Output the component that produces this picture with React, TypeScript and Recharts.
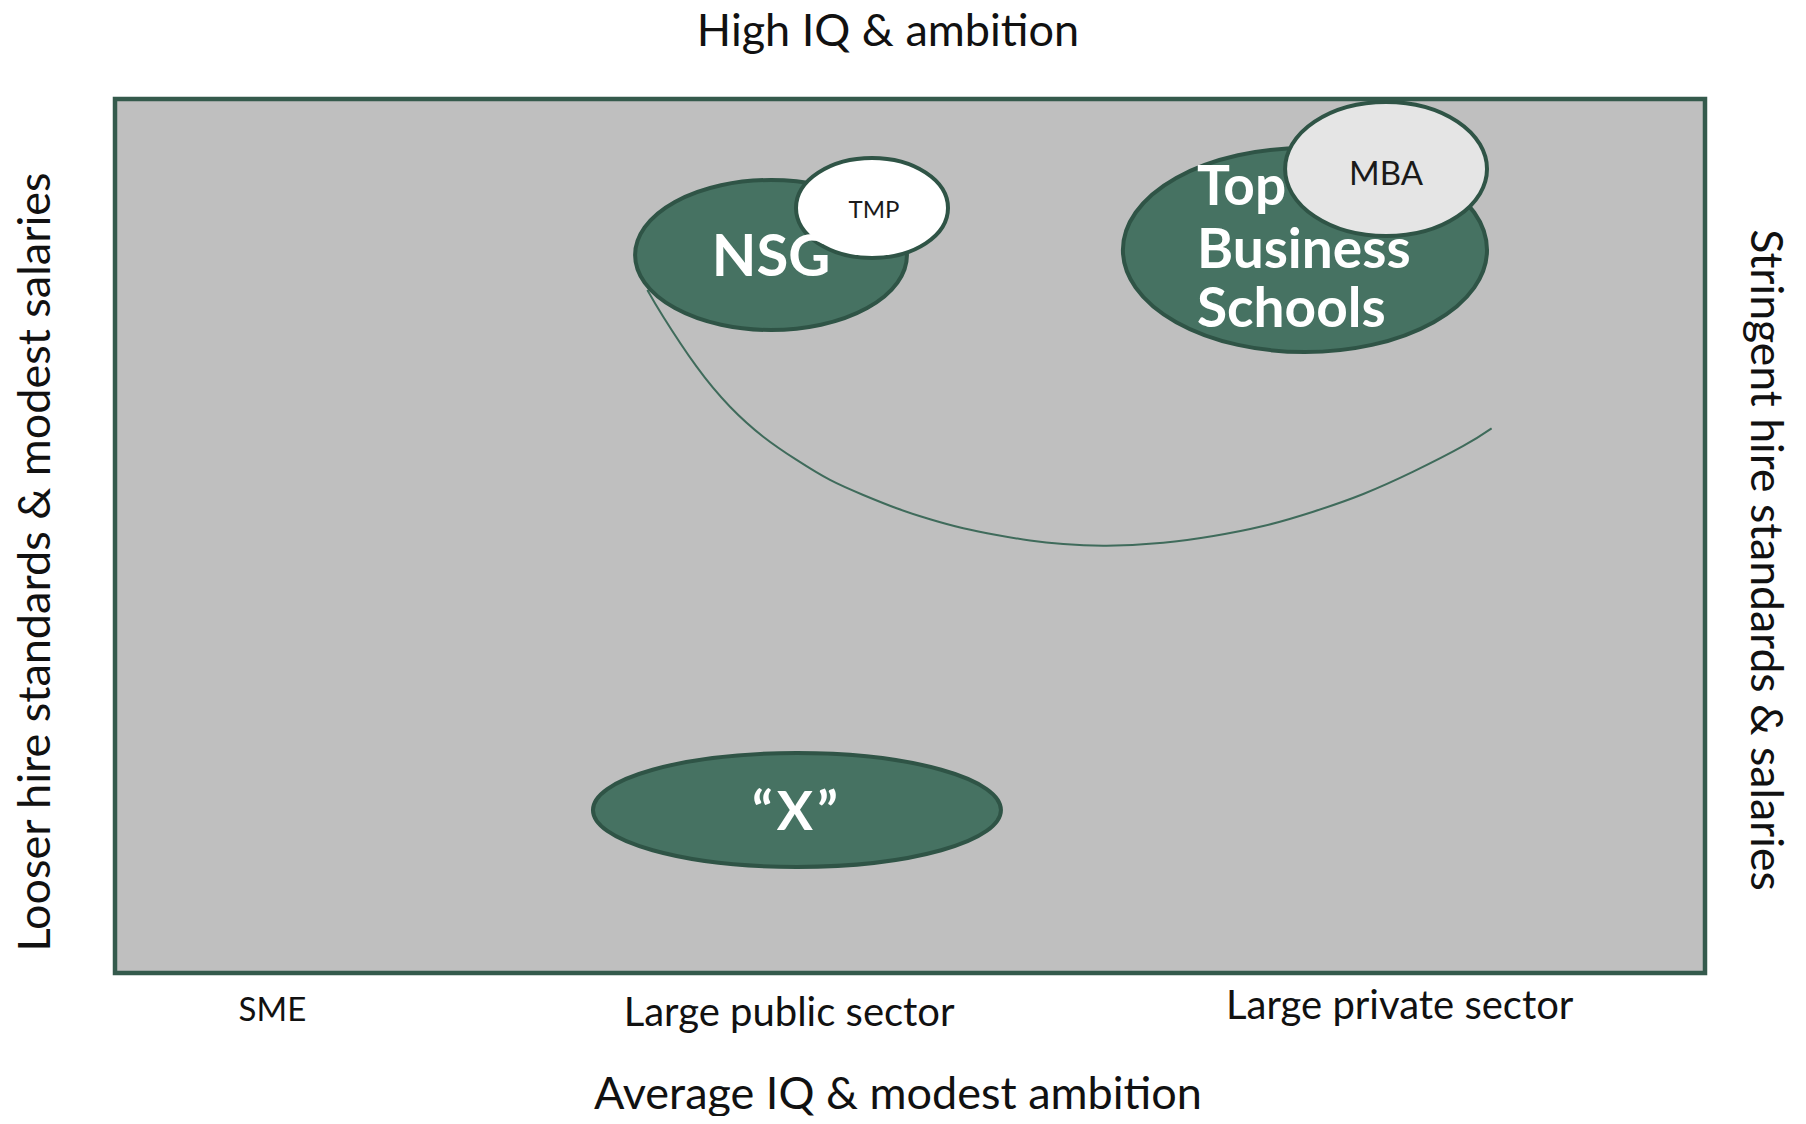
import React from 'react';
import { ComposedChart, XAxis, YAxis, Scatter, Line, ReferenceArea } from 'recharts';

// ---------- data ----------
const sectorLabels = ['SME', 'Large public sector', 'Large private sector'];
const sectorPositions = [9.9, 42.4, 80.8];

const titleTop = 'High IQ & ambition';
const titleBottom = 'Average IQ & modest ambition';
const titleLeft = 'Looser hire standards & modest salaries';
const titleRight = 'Stringent hire standards & salaries';

const bubbleIds = ['top', 'mba', 'nsg', 'tmp', 'x'];
const bubbleX = [74.84, 79.94, 41.26, 47.61, 42.89];
const bubbleY = [82.72, 91.99, 82.15, 87.53, 18.65];
const bubbleRx = [11.45, 6.35, 8.55, 4.78, 12.83];
const bubbleRy = [11.67, 7.67, 8.58, 5.72, 6.52];
const bubbleLabels = [['Top', 'Business', 'Schools'], ['MBA'], ['NSG'], ['TMP'], ['\u201CX\u201D']];

const curveX = [33.48, 34.48, 36.58, 38.68, 40.77, 42.87, 44.97, 47.06, 49.16, 51.26, 53.35, 55.45, 57.55, 59.64, 62.37, 65.93, 69.08, 72.22, 75.36, 78.51, 81.65, 84.8, 86.58];
const curveY = [78.15, 75.09, 69.37, 64.79, 61.36, 58.7, 56.41, 54.69, 53.17, 51.91, 50.88, 50.11, 49.49, 49.08, 48.89, 49.23, 50.0, 51.14, 52.78, 54.81, 57.36, 60.3, 62.32];

// ---------- layout & styles ----------
const CHART_W = 1806;
const CHART_H = 1124;
const TOP_AXIS_H = 99;
const BOTTOM_AXIS_H = 151;
const LEFT_AXIS_W = 115;
const RIGHT_AXIS_W = 101;
const PLOT_W = CHART_W - LEFT_AXIS_W - RIGHT_AXIS_W;
const PLOT_H = CHART_H - TOP_AXIS_H - BOTTOM_AXIS_H;
const X_DOMAIN: [number, number] = [0, 100];
const Y_DOMAIN: [number, number] = [0, 100];
const PX_PER_X = PLOT_W / (X_DOMAIN[1] - X_DOMAIN[0]);
const PX_PER_Y = PLOT_H / (Y_DOMAIN[1] - Y_DOMAIN[0]);

const FONT = "Lato, 'Open Sans', sans-serif";
const TEXT_COLOR = '#111111';
const GREEN_FILL = '#467262';
const GREEN_STROKE = '#2f5446';
const FRAME = '#345a4c';
const PLOT_BG = '#bfbfbf';
const CURVE = '#3f6b5b';

const SECTOR_STYLE = [
  { dy: 35, fontSize: 33 },
  { dy: 38, fontSize: 40 },
  { dy: 31, fontSize: 40 },
];

type BubbleStyle = {
  fill: string;
  color: string;
  fontSize: number;
  fontWeight: number;
  anchor: 'start' | 'middle';
  dx: number;
  baselines: number[];
  letterSpacing?: number;
  labelOnTop?: boolean;
};

const BUBBLE_STYLE: Record<string, BubbleStyle> = {
  top: { fill: GREEN_FILL, color: '#ffffff', fontSize: 55, fontWeight: 700, anchor: 'start', dx: -108, baselines: [-45, 18, 77] },
  mba: { fill: '#e5e5e5', color: '#1a1a1a', fontSize: 33, fontWeight: 400, anchor: 'middle', dx: 0, baselines: [16] },
  nsg: { fill: GREEN_FILL, color: '#ffffff', fontSize: 58, fontWeight: 700, anchor: 'middle', dx: 0, baselines: [21], labelOnTop: true },
  tmp: { fill: '#ffffff', color: '#1a1a1a', fontSize: 24, fontWeight: 400, anchor: 'middle', dx: 2, baselines: [10] },
  x: { fill: GREEN_FILL, color: '#ffffff', fontSize: 54, fontWeight: 700, anchor: 'middle', dx: 0, baselines: [20], letterSpacing: 4 },
};

// ---------- derived tables ----------
const bubbles = bubbleIds.map((id, i) => ({
  id,
  x: bubbleX[i],
  y: bubbleY[i],
  rx: bubbleRx[i],
  ry: bubbleRy[i],
  lines: bubbleLabels[i],
}));
const topLabels = bubbles.filter((b) => BUBBLE_STYLE[b.id].labelOnTop);
const curveData = curveX.map((x, i) => ({ x, y: curveY[i] }));

// ---------- renderers ----------
const BubbleText = ({ cx, cy, payload }: any) => {
  const st = BUBBLE_STYLE[payload.id];
  return (
    <g>
      {payload.lines.map((line: string, i: number) => (
        <text
          key={i}
          x={cx + st.dx}
          y={cy + st.baselines[i]}
          fill={st.color}
          fontSize={st.fontSize}
          fontWeight={st.fontWeight}
          fontFamily={FONT}
          textAnchor={st.anchor}
          letterSpacing={st.letterSpacing || 0}
        >
          {line}
        </text>
      ))}
    </g>
  );
};

const BubbleShape = (props: any) => {
  const { cx, cy, payload } = props;
  const st = BUBBLE_STYLE[payload.id];
  return (
    <g>
      <ellipse
        cx={cx}
        cy={cy}
        rx={payload.rx * PX_PER_X}
        ry={payload.ry * PX_PER_Y}
        fill={st.fill}
        stroke={GREEN_STROKE}
        strokeWidth={4}
      />
      {!st.labelOnTop && <BubbleText cx={cx} cy={cy} payload={payload} />}
    </g>
  );
};

const LabelOnlyShape = (props: any) => <BubbleText cx={props.cx} cy={props.cy} payload={props.payload} />;

const SectorTick = (props: any) => {
  const { x, y, payload } = props;
  const i = sectorPositions.indexOf(payload.value);
  if (i < 0) return null;
  const st = SECTOR_STYLE[i];
  return (
    <text
      x={x}
      y={y + st.dy}
      textAnchor="middle"
      dominantBaseline="central"
      fontSize={st.fontSize}
      fontFamily={FONT}
      fill={TEXT_COLOR}
    >
      {sectorLabels[i]}
    </text>
  );
};

const makeTitle = (text: string, place: 'top' | 'bottom' | 'left' | 'right') => (props: any) => {
  const vb = props.viewBox || { x: 0, y: 0, width: 0, height: 0 };
  let x = 0;
  let y = 0;
  let angle = 0;
  let size = 45;
  if (place === 'top') {
    x = vb.x + vb.width / 2 - 22;
    y = vb.y + 29;
  } else if (place === 'bottom') {
    x = vb.x + vb.width / 2 - 12;
    y = vb.y + 119;
  } else if (place === 'left') {
    x = vb.x + 33;
    y = vb.y + vb.height / 2 + 26;
    angle = -90;
    size = 45;
  } else {
    x = vb.x + 63;
    y = vb.y + vb.height / 2 + 24;
    angle = 90;
    size = 44.5;
  }
  return (
    <text
      x={x}
      y={y}
      textAnchor="middle"
      dominantBaseline="central"
      fontSize={size}
      fontFamily={FONT}
      fill={TEXT_COLOR}
      transform={angle ? `rotate(${angle}, ${x}, ${y})` : undefined}
    >
      {text}
    </text>
  );
};

export default function App() {
  return (
    <div style={{ margin: -8, width: CHART_W, height: CHART_H }}>
      <ComposedChart width={CHART_W} height={CHART_H} margin={{ top: 0, right: 0, bottom: 0, left: 0 }}>
        <XAxis
          xAxisId="bottom"
          orientation="bottom"
          type="number"
          dataKey="x"
          domain={X_DOMAIN}
          ticks={sectorPositions}
          interval={0}
          height={BOTTOM_AXIS_H}
          axisLine={false}
          tickLine={false}
          tickSize={0}
          tickMargin={0}
          tick={<SectorTick />}
          label={makeTitle(titleBottom, 'bottom')}
        />
        <XAxis
          xAxisId="top"
          orientation="top"
          type="number"
          domain={X_DOMAIN}
          height={TOP_AXIS_H}
          axisLine={false}
          tickLine={false}
          tick={false}
          label={makeTitle(titleTop, 'top')}
        />
        <YAxis
          yAxisId="left"
          orientation="left"
          type="number"
          dataKey="y"
          domain={Y_DOMAIN}
          width={LEFT_AXIS_W}
          axisLine={false}
          tickLine={false}
          tick={false}
          label={makeTitle(titleLeft, 'left')}
        />
        <YAxis
          yAxisId="right"
          orientation="right"
          type="number"
          domain={Y_DOMAIN}
          width={RIGHT_AXIS_W}
          axisLine={false}
          tickLine={false}
          tick={false}
          label={makeTitle(titleRight, 'right')}
        />
        <ReferenceArea
          xAxisId="bottom"
          yAxisId="left"
          x1={X_DOMAIN[0]}
          x2={X_DOMAIN[1]}
          y1={Y_DOMAIN[0]}
          y2={Y_DOMAIN[1]}
          fill={PLOT_BG}
          fillOpacity={1}
          stroke={FRAME}
          strokeWidth={4.5}
          ifOverflow="visible"
        />
        <Line
          xAxisId="bottom"
          yAxisId="left"
          data={curveData}
          dataKey="y"
          type="natural"
          stroke={CURVE}
          strokeWidth={2}
          dot={false}
          activeDot={false}
          isAnimationActive={false}
        />
        <Scatter
          xAxisId="bottom"
          yAxisId="left"
          data={bubbles}
          shape={BubbleShape}
          isAnimationActive={false}
        />
        <Scatter
          xAxisId="bottom"
          yAxisId="left"
          data={topLabels}
          shape={LabelOnlyShape}
          isAnimationActive={false}
        />
      </ComposedChart>
    </div>
  );
}
